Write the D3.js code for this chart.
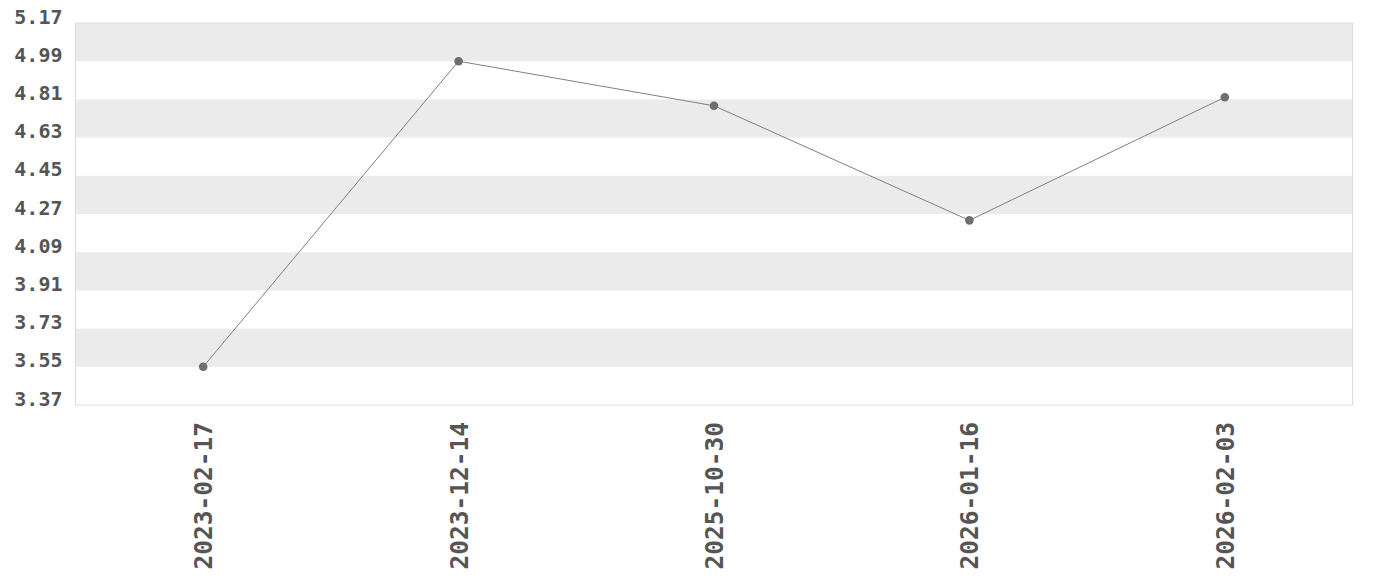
<!DOCTYPE html>
<html>
<head>
<meta charset="utf-8">
<script src="https://cdn.jsdelivr.net/npm/d3@7"></script>
<style>
  html, body { margin: 0; padding: 0; background: #fff; }
  svg { display: block; }
</style>
</head>
<body>
<div id="chart"></div>
<script>
const categories = ["2023-02-17", "2023-12-14", "2025-10-30", "2026-01-16", "2026-02-03"];
const values = [3.55, 4.99, 4.78, 4.24, 4.82];
const yTicks = [3.37, 3.55, 3.73, 3.91, 4.09, 4.27, 4.45, 4.63, 4.81, 4.99, 5.17];

const W = 1380, H = 580;
const margin = { top: 23, right: 27.5, bottom: 175, left: 75.5 };
const iw = W - margin.left - margin.right;
const ih = H - margin.top - margin.bottom;

const svg = d3.select("#chart").append("svg").attr("width", W).attr("height", H);
const g = svg.append("g").attr("transform", `translate(${margin.left},${margin.top})`);

const x = d3.scalePoint().domain(categories).range([0, iw]).padding(0.5);
const y = d3.scaleLinear().domain([yTicks[0], yTicks[yTicks.length - 1]]).range([ih, 0]);

const bands = d3.range(yTicks.length - 1).filter(i => (yTicks.length - 2 - i) % 2 === 0);
g.selectAll("rect.band").data(bands).enter().append("rect")
  .attr("class", "band")
  .attr("x", 0)
  .attr("width", iw)
  .attr("y", i => y(yTicks[i + 1]))
  .attr("height", i => y(yTicks[i]) - y(yTicks[i + 1]))
  .attr("fill", "#ebebeb");

g.append("rect").attr("x", 0).attr("y", 0).attr("width", iw).attr("height", ih)
  .attr("fill", "none").attr("stroke", "#dddddd").attr("stroke-width", 1);

const yAxis = g.append("g").call(d3.axisLeft(y).tickValues(yTicks).tickSize(0).tickPadding(13).tickFormat(d3.format(".2f")));
yAxis.select(".domain").remove();
yAxis.selectAll("text")
  .attr("dy", "0")
  .style("font-family", "'DejaVu Sans Mono', monospace")
  .style("font-weight", "bold")
  .style("font-size", "20px")
  .attr("fill", "#555");

const xAxis = g.append("g").attr("transform", `translate(0,${ih})`)
  .call(d3.axisBottom(x).tickSize(0).tickPadding(0));
xAxis.select(".domain").remove();
xAxis.selectAll("text")
  .attr("transform", "rotate(-90)")
  .attr("text-anchor", "end")
  .attr("x", -17)
  .attr("y", 0)
  .attr("dy", "0.35em")
  .style("font-family", "'DejaVu Sans Mono', monospace")
  .style("font-weight", "bold")
  .style("font-size", "24.5px")
  .attr("fill", "#555");

const line = d3.line().x((d, i) => x(categories[i])).y(d => y(d));
g.append("path").datum(values).attr("d", line)
  .attr("fill", "none").attr("stroke", "#808080").attr("stroke-width", 1);

g.selectAll("circle.pt").data(values).enter().append("circle")
  .attr("class", "pt")
  .attr("cx", (d, i) => x(categories[i]))
  .attr("cy", d => y(d))
  .attr("r", 4.3)
  .attr("fill", "#6e6e6e");
</script>
</body>
</html>
